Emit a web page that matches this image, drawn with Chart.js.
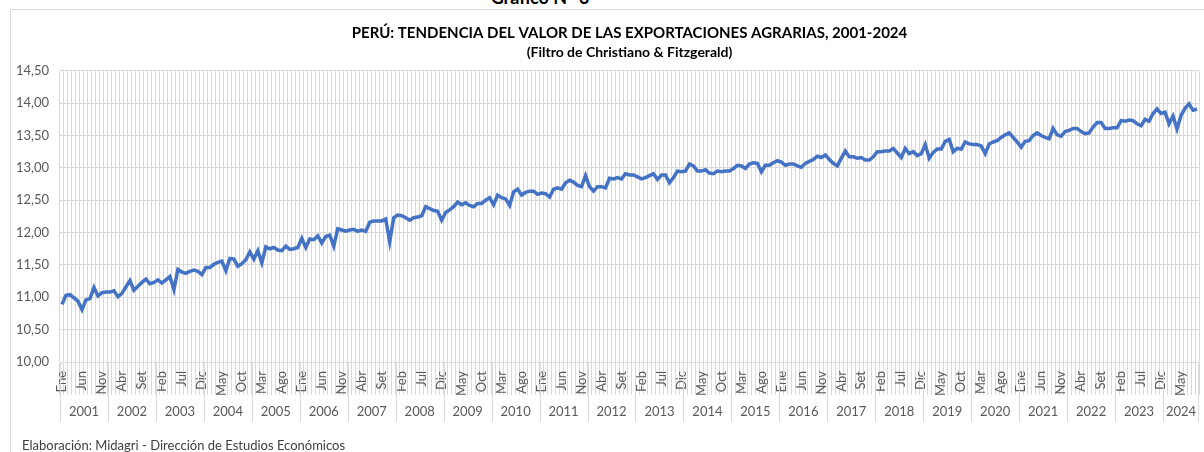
<!DOCTYPE html>
<html>
<head>
<meta charset="utf-8">
<title>Exportaciones agrarias</title>
<script src="https://cdn.jsdelivr.net/npm/chart.js@4.4.1/dist/chart.umd.min.js"></script>
<style>
    body { margin: 0; background: #fff; font-family: Lato, "Open Sans", sans-serif; }
    #wrap { position: relative; width: 1204px; height: 452px; overflow: hidden; }
    #frame { position: absolute; left: 10px; top: 9px; width: 1210px; height: 460px; border: 1px solid #d9d9d9; }
    #heading { position: absolute; left: 440px; width: 200px; top: -14px; text-align: center; font-weight: bold; font-size: 18px; color: #000; }
    #footer { position: absolute; left: 22px; top: 437px; font-size: 13px; color: #404040; }
    canvas { position: absolute; left: 0; top: 0; }
</style>
</head>
<body>
<div id="wrap">
    <div id="frame"></div>
    <div id="heading">Gráfico N° 3</div>
    <canvas id="chart" width="1204" height="452"></canvas>
    <div id="footer">Elaboración: Midagri - Dirección de Estudios Económicos</div>
</div>
<script>
// chart data
const monthNames = ["Ene", "Feb", "Mar", "Abr", "May", "Jun", "Jul", "Ago", "Set", "Oct", "Nov", "Dic"];
const years = ["2001", "2002", "2003", "2004", "2005", "2006", "2007", "2008", "2009", "2010", "2011", "2012",
    "2013", "2014", "2015", "2016", "2017", "2018", "2019", "2020", "2021", "2022", "2023", "2024"];
const monthsLastYear = 9;
const yTicks = [10, 10.5, 11, 11.5, 12, 12.5, 13, 13.5, 14, 14.5];

// tendencia (log del valor), Ene 2001 - Set 2024
const trend = [
    10.89, 11.03, 11.04, 10.99, 10.94, 10.81, 10.96, 10.98, 11.15, 11.02, 11.07, 11.08,
    11.08, 11.10, 11.01, 11.06, 11.16, 11.26, 11.11, 11.17, 11.23, 11.28, 11.21, 11.23,
    11.27, 11.22, 11.27, 11.32, 11.12, 11.43, 11.39, 11.37, 11.40, 11.42, 11.40, 11.35,
    11.46, 11.46, 11.51, 11.54, 11.56, 11.41, 11.60, 11.59, 11.48, 11.52, 11.58, 11.70,
    11.59, 11.72, 11.53, 11.78, 11.75, 11.77, 11.73, 11.72, 11.79, 11.74, 11.75, 11.77,
    11.91, 11.77, 11.90, 11.89, 11.95, 11.84, 11.94, 11.96, 11.79, 12.06, 12.04, 12.02,
    12.04, 12.05, 12.02, 12.04, 12.02, 12.16, 12.18, 12.18, 12.18, 12.21, 11.86, 12.23,
    12.27, 12.26, 12.23, 12.19, 12.23, 12.24, 12.26, 12.40, 12.37, 12.34, 12.33, 12.19,
    12.31, 12.35, 12.40, 12.47, 12.43, 12.46, 12.42, 12.40, 12.45, 12.45, 12.50, 12.54,
    12.43, 12.58, 12.54, 12.52, 12.42, 12.63, 12.67, 12.58, 12.62, 12.64, 12.64, 12.59,
    12.61, 12.60, 12.55, 12.67, 12.69, 12.67, 12.77, 12.81, 12.78, 12.73, 12.71, 12.88,
    12.71, 12.64, 12.71, 12.71, 12.69, 12.84, 12.83, 12.85, 12.83, 12.91, 12.89, 12.89,
    12.86, 12.83, 12.85, 12.88, 12.91, 12.82, 12.89, 12.89, 12.77, 12.85, 12.95, 12.94,
    12.95, 13.06, 13.03, 12.95, 12.95, 12.97, 12.92, 12.91, 12.95, 12.94, 12.95, 12.95,
    12.99, 13.04, 13.03, 12.99, 13.06, 13.08, 13.07, 12.94, 13.04, 13.04, 13.08, 13.11,
    13.09, 13.04, 13.06, 13.06, 13.03, 13.01, 13.07, 13.10, 13.13, 13.18, 13.16, 13.20,
    13.13, 13.07, 13.03, 13.15, 13.26, 13.17, 13.17, 13.15, 13.16, 13.12, 13.12, 13.17,
    13.25, 13.25, 13.26, 13.26, 13.30, 13.23, 13.16, 13.30, 13.22, 13.25, 13.19, 13.22,
    13.36, 13.15, 13.24, 13.29, 13.29, 13.41, 13.44, 13.25, 13.30, 13.29, 13.40, 13.37,
    13.36, 13.36, 13.34, 13.22, 13.37, 13.40, 13.42, 13.47, 13.51, 13.54, 13.47, 13.40,
    13.32, 13.41, 13.42, 13.50, 13.54, 13.50, 13.47, 13.45, 13.61, 13.51, 13.49, 13.56,
    13.58, 13.61, 13.61, 13.56, 13.53, 13.54, 13.63, 13.70, 13.70, 13.61, 13.61, 13.62,
    13.62, 13.73, 13.72, 13.74, 13.73, 13.68, 13.65, 13.75, 13.72, 13.84, 13.91, 13.84,
    13.86, 13.68, 13.80, 13.60, 13.81, 13.92, 13.99, 13.89, 13.91
];

// one category per month
const labels = [];
years.forEach((y, k) => {
    const n = k === years.length - 1 ? monthsLastYear : 12;
    for (let m = 0; m < n; m++) labels.push(monthNames[m]);
});

const gridColor = "#d9d9d9";
const textColor = "#595959";
const fontFamily = "Lato, 'Open Sans', sans-serif";

// year row under the month labels
const yearRow = {
    id: "yearRow",
    afterDraw(chart) {
        const ctx = chart.ctx;
        const x = chart.scales.x;
        const half = (x.getPixelForValue(1) - x.getPixelForValue(0)) / 2;
        const top = chart.chartArea.bottom;
        ctx.save();
        ctx.strokeStyle = gridColor;
        ctx.lineWidth = 1;
        ctx.fillStyle = textColor;
        ctx.font = "13px " + fontFamily;
        ctx.textAlign = "center";
        ctx.textBaseline = "middle";
        let start = 0;
        years.forEach((y, k) => {
            const n = k === years.length - 1 ? monthsLastYear : 12;
            const left = x.getPixelForValue(start) - half;
            const right = x.getPixelForValue(start + n - 1) + half;
            ctx.beginPath();
            ctx.moveTo(Math.round(left) + 0.5, top);
            ctx.lineTo(Math.round(left) + 0.5, top + 60);
            if (k === years.length - 1) {
                ctx.moveTo(Math.round(right) - 0.5, top);
                ctx.lineTo(Math.round(right) - 0.5, top + 60);
            }
            ctx.stroke();
            ctx.fillText(y, (left + right) / 2, top + 50);
            start += n;
        });
        ctx.restore();
    }
};

new Chart(document.getElementById("chart"), {
    type: "line",
    data: {
        labels: labels,
        datasets: [{
            data: trend,
            borderColor: "#4472c4",
            borderWidth: 3.5,
            pointRadius: 0,
            tension: 0,
            fill: false
        }]
    },
    options: {
        responsive: false,
        animation: false,
        layout: { padding: { left: 0, right: 5, top: 0, bottom: 0 } },
        plugins: {
            legend: { display: false },
            tooltip: { enabled: false },
            title: {
                display: true,
                fullSize: false,
                text: "PERÚ: TENDENCIA DEL VALOR DE LAS EXPORTACIONES AGRARIAS, 2001-2024",
                color: "#000",
                font: { family: fontFamily, size: 15, weight: "bold" },
                padding: { top: 24, bottom: 2 }
            },
            subtitle: {
                display: true,
                fullSize: false,
                text: "(Filtro de Christiano & Fitzgerald)",
                color: "#000",
                font: { family: fontFamily, size: 14, weight: "bold" },
                padding: { top: 0, bottom: 10 }
            }
        },
        scales: {
            x: {
                type: "category",
                offset: true,
                grid: { color: gridColor, offset: true, drawTicks: true, tickLength: 33 },
                border: { color: gridColor },
                ticks: {
                    autoSkip: false,
                    minRotation: 90,
                    maxRotation: 90,
                    padding: -24,
                    color: textColor,
                    font: { family: fontFamily, size: 13 },
                    callback: (v, i) => (i % 5 === 0 ? labels[i] : "")
                },
                afterFit: (s) => { s.height = 90; }
            },
            y: {
                min: yTicks[0],
                max: yTicks[yTicks.length - 1],
                afterBuildTicks: (s) => { s.ticks = yTicks.map(v => ({ value: v })); },
                grid: { color: gridColor, drawTicks: false },
                border: { display: false },
                ticks: {
                    padding: 11,
                    color: textColor,
                    font: { family: fontFamily, size: 13 },
                    callback: (v) => v.toFixed(2).replace(".", ",")
                },
                afterFit: (s) => { s.width = 60; }
            }
        }
    },
    plugins: [yearRow]
});
</script>
</body>
</html>
